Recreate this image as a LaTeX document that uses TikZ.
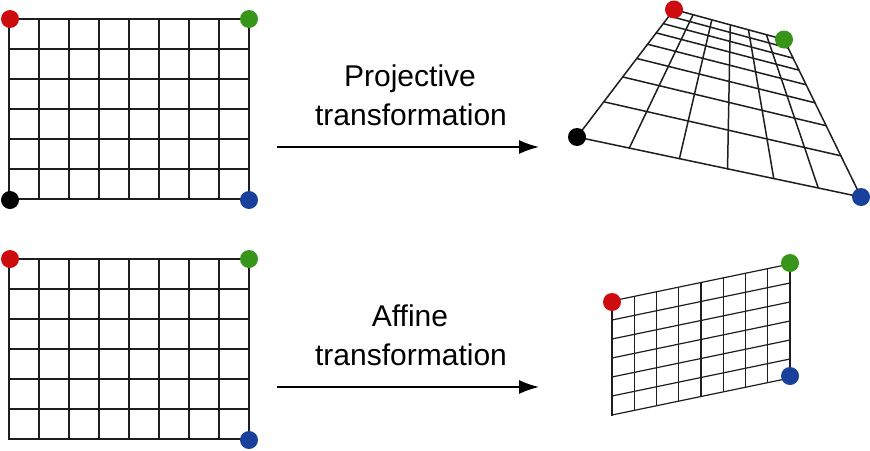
\documentclass[tikz,border=0pt]{standalone}
\usepackage{fontspec}
\setmainfont{Liberation Sans}
\usetikzlibrary{calc,arrows.meta}
\definecolor{dotred}{RGB}{205,12,15}
\definecolor{dotgreen}{RGB}{55,150,25}
\definecolor{dotblue}{RGB}{25,65,155}
\definecolor{ink}{RGB}{30,30,30}
\begin{document}
\begin{tikzpicture}[x=1pt,y=-1pt,
  gridline/.style={line width=1.5pt, color=ink, line cap=rect},
  thinline/.style={line width=1.2pt, color=ink, line cap=rect},
  dot/.style={circle, inner sep=0pt, minimum size=18pt},
  lbl/.style={font=\fontsize{30}{36}\selectfont, inner sep=0pt, anchor=base},
  arr/.style={line width=1.5pt, color=black, -{Latex[length=20pt,width=14pt]}}]
\useasboundingbox[fill=white] (0,0) rectangle (870,450);

% ---------- top-left square grid ----------
\foreach \k in {0,...,8} \draw[gridline] (9+30*\k,19) -- (9+30*\k,199);
\foreach \k in {0,...,6} \draw[gridline] (9,19+30*\k) -- (249,19+30*\k);

% ---------- bottom-left square grid ----------
\foreach \k in {0,...,8} \draw[gridline] (9+30*\k,259) -- (9+30*\k,439);
\foreach \k in {0,...,6} \draw[gridline] (9,259+30*\k) -- (249,259+30*\k);

% ---------- projective grid ----------
\coordinate (PK) at (577,137);
\coordinate (PB) at (861,197);
\coordinate (PR) at (674,9.5);
\coordinate (PG) at (784,39.5);
\foreach \i in {0,...,6}{
  \pgfmathsetmacro\myqa{(\i/6)*8.82/(7.82+\i/6)}
  \pgfmathsetmacro\myqb{(\i/6)*21.89/(20.89+\i/6)}
  \draw[gridline, line cap=round] ($(PK)!\myqa!(PB)$) -- ($(PR)!\myqb!(PG)$);
}
\foreach \j in {0,...,8}{
  \pgfmathsetmacro\myqc{(\j/8)*1.598/(0.598+\j/8)}
  \pgfmathsetmacro\myqd{(\j/8)*1.675/(0.675+\j/8)}
  \draw[gridline, line cap=round] ($(PK)!\myqc!(PR)$) -- ($(PB)!\myqd!(PG)$);
}

% ---------- affine grid ----------
\coordinate (ATL) at (612,301);
\coordinate (ATR) at (790,264);
\coordinate (ABL) at (612,415);
\coordinate (ABR) at (790,378);
\foreach \i in {0,...,8}
  \draw[thinline] ($(ATL)!\i/8!(ATR)$) -- ($(ABL)!\i/8!(ABR)$);
\foreach \j in {0,...,6}
  \draw[thinline] ($(ATL)!\j/6!(ABL)$) -- ($(ATR)!\j/6!(ABR)$);

% ---------- corner dots ----------
\node[dot, fill=dotred]   (sq1r) at (10,19)  {};
\node[dot, fill=dotgreen] (sq1g) at (249,19) {};
\node[dot, fill=black]    (sq1k) at (10,200) {};
\node[dot, fill=dotblue]  (sq1b) at (249,200) {};

\node[dot, fill=dotred]   (sq2r) at (10,259)  {};
\node[dot, fill=dotgreen] (sq2g) at (249,259) {};
\node[dot, fill=dotblue]  (sq2b) at (249,440) {};

\node[dot, fill=dotred]   (prr) at (674,9.5) {};
\node[dot, fill=dotgreen] (prg) at (784,39.5) {};
\node[dot, fill=black]    (prk) at (577,137) {};
\node[dot, fill=dotblue]  (prb) at (861,197) {};

\node[dot, fill=dotred]   (afr) at (612,302) {};
\node[dot, fill=dotgreen] (afg) at (790,263) {};
\node[dot, fill=dotblue]  (afb) at (790,376) {};

% ---------- labels and arrows ----------
\node[lbl] (projA) at (410,86.5) {Projective};
\node[lbl] (projB) at (411,125) {transformation};
\coordinate (pa1) at (277,147);
\coordinate (pa2) at (539,147);
\draw[arr] (pa1) -- (pa2);

\node[lbl] (affA) at (410,326) {Affine};
\node[lbl] (affB) at (411,365) {transformation};
\coordinate (aa1) at (277,387);
\coordinate (aa2) at (539,387);
\draw[arr] (aa1) -- (aa2);
\end{tikzpicture}
\end{document}
